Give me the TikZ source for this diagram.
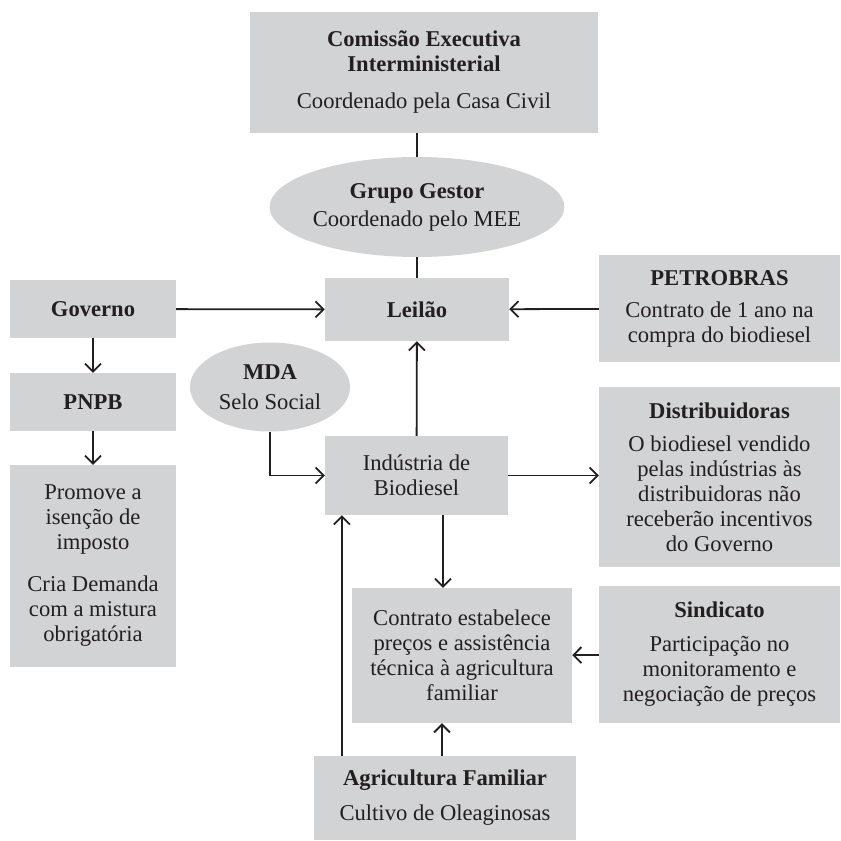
\documentclass[tikz,border=0pt]{standalone}
\usepackage{fontspec}
\setmainfont{Liberation Serif}
\usepackage{tikz}
\usetikzlibrary{arrows.meta,shapes.geometric}
\definecolor{boxgray}{RGB}{209,211,212}
\definecolor{ink}{RGB}{35,31,32}
\tikzset{
box/.style = {rectangle, fill=boxgray, inner sep=0pt,
              align=center, text=ink},
oval/.style = {ellipse, fill=boxgray, inner sep=0pt,
               align=center, text=ink}
}
\tikzset{
link/.style = {draw=ink, line width=1.8pt},
>={Straight Barb[length=8pt,width=16pt]} % open arrow heads
}

\begin{document}
\begin{tikzpicture}[x=1pt, y=-1pt, font=\fontsize{22.6}{25}\selectfont]
\useasboundingbox (0,0) rectangle (841,841);

\node[box, minimum width=348, minimum height=121] (comissao) at (424,72.5)
  {\textbf{Comissão Executiva}\\\textbf{Interministerial}\\[12pt]Coordenado pela Casa Civil};
\node[oval, minimum width=281, minimum height=100] (gestor) at (417,207)
  {\textbf{Grupo Gestor}\\[3pt]Coordenado pelo MEE};
\node[box, minimum width=184, minimum height=63] (leilao) at (417,309.5) {\textbf{Leilão}};
\node[box, minimum width=166, minimum height=58] (governo) at (93,309) {\textbf{Governo}};
\node[box, minimum width=166, minimum height=58] (pnpb) at (93,402) {\textbf{PNPB}};
\node[box, minimum width=166, minimum height=202] (promove) at (93,566)
  {Promove a\\isenção de\\imposto\\[17pt]Cria Demanda\\com a mistura\\obrigatória};
\node[oval, minimum width=160, minimum height=89] (mda) at (270,387)
  {\textbf{MDA}\\[5pt]Selo Social};
\node[box, minimum width=183, minimum height=79] (industria) at (416.5,475.5)
  {Indústria de\\Biodiesel};
\node[box, minimum width=241, minimum height=107] (petrobras) at (719.5,308.5)
  {\textbf{PETROBRAS}\\[7pt]Contrato de 1 ano na\\compra do biodiesel};
\node[box, minimum width=241, minimum height=180] (distrib) at (719.5,477)
  {\textbf{Distribuidoras}\\[8pt]O biodiesel vendido\\pelas indústrias às\\distribuidoras não\\receberão incentivos\\do Governo};
\node[box, minimum width=220, minimum height=135] (contrato) at (462,655.5)
  {Contrato estabelece\\preços e assistência\\técnica à agricultura\\familiar};
\node[box, minimum width=241, minimum height=137] (sindicato) at (719.5,654.5)
  {\textbf{Sindicato}\\[9pt]Participação no\\monitoramento e\\negociação de preços};
\node[box, minimum width=262, minimum height=84] (agricultura) at (445,798)
  {\textbf{Agricultura Familiar}\\[10pt]Cultivo de Oleaginosas};

\draw [link] (gestor.north |- comissao.south) -- (gestor.north);
\draw [link] (gestor.south) -- (leilao.north);
\draw [->, link] (governo) -- (leilao);
\draw [->, link] (petrobras) -- (leilao);
\draw [->, link] (governo) -- (pnpb);
\draw [->, link] (pnpb) -- (promove);
\draw [->, link] (mda.south) |- (industria.west);
\draw [->, link] (industria) -- (leilao);
\draw [->, link] (industria.east) -- (industria.east -| distrib.west);
\draw [->, link] ([xshift=26.5pt]industria.south) -- ([xshift=26.5pt]industria.south |- contrato.north);
\draw [->, link] (sindicato) -- (contrato);
\draw [->, link] ([xshift=-3pt]agricultura.north) -- ([xshift=-3pt]agricultura.north |- contrato.south);
\draw [->, link] ([xshift=28pt]agricultura.north west) -- ([xshift=28pt]agricultura.north west |- industria.south);
\end{tikzpicture}
\end{document}
